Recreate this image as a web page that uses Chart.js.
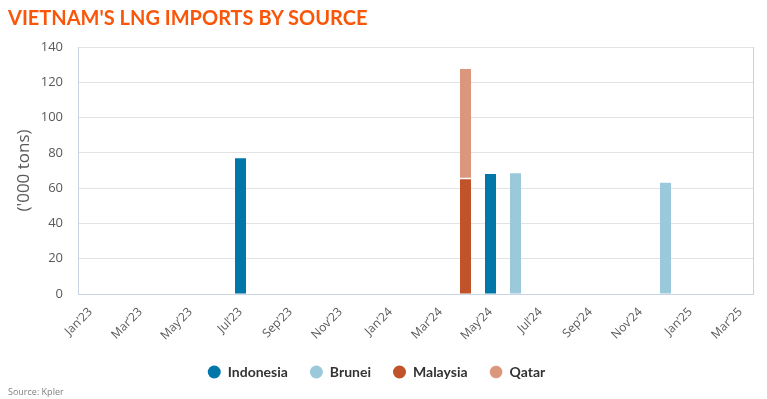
<!DOCTYPE html>
<html>
<head>
<meta charset="utf-8">
<script src="https://cdn.jsdelivr.net/npm/chart.js@4"></script>
<style>
  html, body { margin: 0; padding: 0; background: #fff; }
  #wrap { position: relative; width: 767px; height: 399px; }
  #title { position: absolute; left: 8px; top: 5px; font: bold 20px Lato, sans-serif; color: #fa560a; }
  #source { position: absolute; left: 8px; top: 385px; font: 9px "Open Sans", sans-serif; color: #808080; }
  canvas { position: absolute; left: 0; top: 0; }
</style>
</head>
<body>
<div id="wrap">
  <canvas id="chart" width="767" height="399"></canvas>
  <div id="title">VIETNAM'S LNG IMPORTS BY SOURCE</div>
  <div id="source">Source: Kpler</div>
</div>
<script>
// months Jan'23 .. Mar'25
const months = ["Jan’23","Feb’23","Mar’23","Apr’23","May’23","Jun’23","Jul’23","Aug’23","Sep’23","Oct’23","Nov’23","Dec’23",
  "Jan’24","Feb’24","Mar’24","Apr’24","May’24","Jun’24","Jul’24","Aug’24","Sep’24","Oct’24","Nov’24","Dec’24",
  "Jan’25","Feb’25","Mar’25"];

// '000 tons
const indonesia = [null,null,null,null,null,null,77,null,null,null,null,null, null,null,null,null,68,null,null,null,null,null,null,null, null,null,null];
const brunei    = [null,null,null,null,null,null,null,null,null,null,null,null, null,null,null,null,null,68.5,null,null,null,null,null,63, null,null,null];
const malaysia  = [null,null,null,null,null,null,null,null,null,null,null,null, null,null,null,65,null,null,null,null,null,null,null,null, null,null,null];
const qatar     = [null,null,null,null,null,null,null,null,null,null,null,null, null,null,null,62.5,null,null,null,null,null,null,null,null, null,null,null];

const yTicks = [0, 20, 40, 60, 80, 100, 120, 140];

const colors = {
  indonesia: '#0077a8',
  brunei: '#9bc9dc',
  malaysia: '#c0532a',
  qatar: '#da977c'
};

// right edge of the plot box
const frame = {
  id: 'frame',
  afterDraw(chart) {
    const { ctx, chartArea: a } = chart;
    ctx.save();
    ctx.strokeStyle = '#d0d0d0';
    ctx.lineWidth = 1;
    ctx.beginPath();
    ctx.moveTo(Math.round(a.right) + 0.5, a.top);
    ctx.lineTo(Math.round(a.right) + 0.5, a.bottom);
    ctx.stroke();
    ctx.restore();
  }
};

new Chart(document.getElementById('chart'), {
  type: 'bar',
  data: {
    labels: months,
    datasets: [
      { label: 'Indonesia', data: indonesia, backgroundColor: colors.indonesia },
      { label: 'Brunei', data: brunei, backgroundColor: colors.brunei },
      { label: 'Malaysia', data: malaysia, backgroundColor: colors.malaysia },
      { label: 'Qatar', data: qatar, backgroundColor: colors.qatar,
        borderColor: '#ffffff', borderWidth: { bottom: 1.5, top: 0, left: 0, right: 0 }, borderSkipped: false }
    ]
  },
  options: {
    responsive: false,
    animation: false,
    datasets: { bar: { barPercentage: 0.44, categoryPercentage: 1 } },
    layout: { padding: { top: 47, left: 0, right: 14, bottom: 10 } },
    scales: {
      x: {
        stacked: true,
        grid: { display: false },
        border: { color: '#c8d3e3' },
        ticks: {
          autoSkip: false, minRotation: 45, maxRotation: 45,
          color: '#595959', font: { family: 'Open Sans', size: 12 },
          callback(v, i) { return i % 2 === 0 ? months[i] : ''; }
        },
        afterFit(s) { s.height = 49; }
      },
      y: {
        stacked: true,
        min: 0, max: 140,
        afterBuildTicks(s) { s.ticks = yTicks.map(v => ({ value: v })); },
        grid: { color: '#e3e3e3', drawTicks: false },
        border: { color: '#c8d3e3' },
        ticks: { color: '#595959', padding: 15, font: { family: 'Open Sans', size: 13 } },
        title: { display: true, text: "('000 tons)", color: '#595959', font: { family: 'Open Sans', size: 17 }, padding: { top: 14, bottom: 0 } },
        afterFit(s) { s.width = 78; }
      }
    },
    plugins: {
      legend: {
        position: 'bottom',
        labels: {
          usePointStyle: true, pointStyle: 'circle', pointStyleWidth: 13, boxHeight: 9.2,
          padding: 22, color: '#333333', font: { family: 'Lato', size: 14, weight: 'bold' }
        }
      },
      tooltip: { enabled: false }
    }
  },
  plugins: [frame]
});
</script>
</body>
</html>
